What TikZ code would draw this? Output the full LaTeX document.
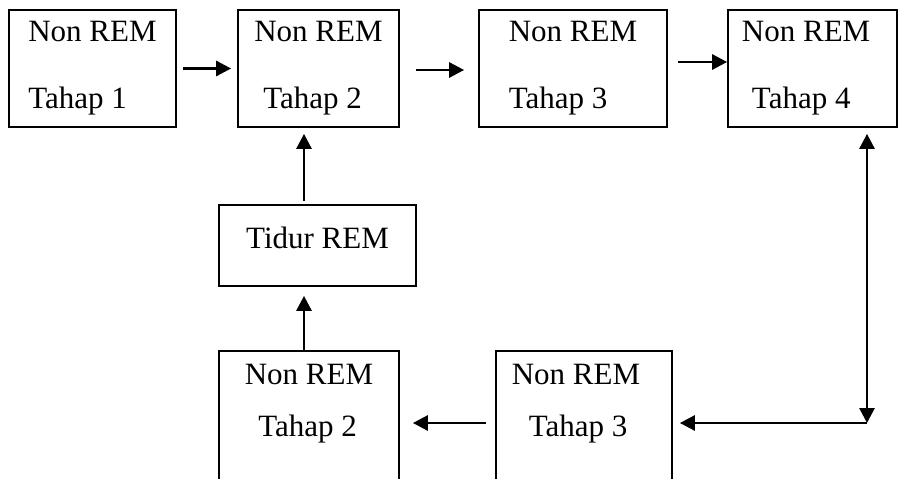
\documentclass[tikz,border=0pt]{standalone}
\usepackage{fontspec}
\setmainfont{Liberation Serif}
\usetikzlibrary{arrows.meta}

\tikzset{
  stage/.style={draw, line width=0.7pt, align=left, inner sep=0pt,
    font=\fontsize{12.4pt}{14.9pt}\selectfont},
  arr/.style={line width=1.1pt, -{Triangle[length=6pt,width=6pt]}},
  arrboth/.style={line width=1.1pt, {Triangle[length=6pt,width=6pt]}-{Triangle[length=6pt,width=6pt]}}
}

\begin{document}
\begin{tikzpicture}[x=0.4pt,y=-0.4pt]
\useasboundingbox (0,0) rectangle (899,479);

% upper row
\node[stage, minimum width=66.8pt, minimum height=46.8pt] (nr1) at (92.5,68.5) {Non REM\\[11.9pt]Tahap 1};
\node[stage, minimum width=64.4pt, minimum height=46.8pt] (nr2) at (318.5,68.5) {Non REM\\[11.9pt]\hspace*{3.6pt}Tahap 2};
\node[stage, minimum width=75.2pt, minimum height=46.8pt] (nr3) at (573,68.5) {Non REM\\[11.9pt]Tahap 3};
\node[stage, minimum width=67.6pt, minimum height=46.8pt] (nr4) at (812.5,68.5) {Non REM\rule{5.1pt}{0pt}\\[11.9pt]\hspace*{4pt}Tahap 4};

% REM
\node[stage, minimum width=78.8pt, minimum height=32.4pt] (rem) at (317.5,245.5) {Tidur REM\rule[-6.5pt]{0pt}{0pt}};

% lower row
\node[stage, minimum width=72pt, minimum height=57.6pt] (back2) at (309,423) {Non REM\\[5.9pt]\hspace*{5.4pt}Tahap 2\rule[-17.8pt]{0pt}{0pt}};
\node[stage, minimum width=70.4pt, minimum height=57.6pt] (back3) at (584,423) {Non REM\rule{6.4pt}{0pt}\\[5.9pt]\hspace*{6.8pt}Tahap 3\rule[-17.8pt]{0pt}{0pt}};

\coordinate (turn) at (867,423);

\draw[arr, shorten <=2.4pt, shorten >=2.4pt] (nr1.east) -- (nr2.west);
\draw[arr, shorten <=6.4pt, shorten >=5.6pt] ([yshift=-0.6pt]nr2.east) -- ([yshift=-0.6pt]nr3.west);
\draw[arr, shorten <=4pt] ([yshift=2.6pt]nr3.east) -- ([yshift=2.6pt]nr4.west);

\draw[arr, shorten <=1.2pt, shorten >=2.4pt] ([xshift=-5.4pt]rem.north) -- ([xshift=-5.4pt]rem.north |- nr2.south);
\draw[arr, shorten >=3.6pt] ([xshift=-5.4pt]rem.south |- back2.north) -- ([xshift=-5.4pt]rem.south);

\draw[arrboth, shorten <=2.4pt] (turn |- nr4.south) -- (turn);
\draw[arr, shorten >=2.8pt] (turn) -- (back3.east);
\draw[arr, shorten <=3.6pt, shorten >=5.2pt] (back3.west) -- (back2.east);
\end{tikzpicture}
\end{document}
